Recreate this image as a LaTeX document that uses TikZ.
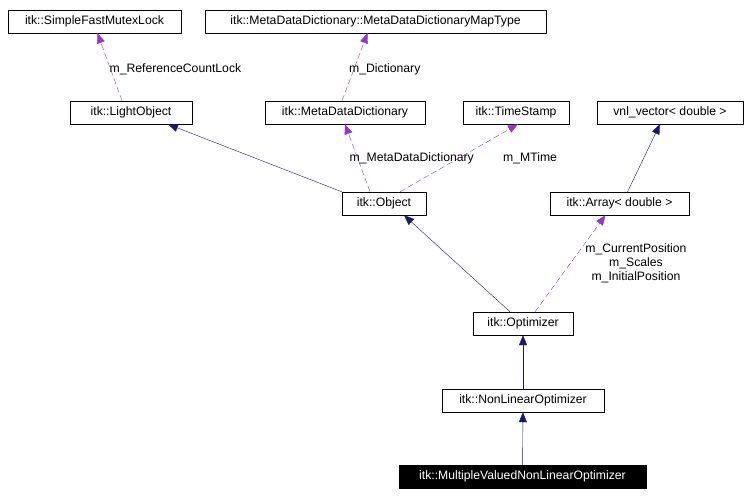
\documentclass[tikz,border=0pt]{standalone}
\usepackage{fontspec}
\setmainfont{Liberation Sans}
\usetikzlibrary{arrows.meta,positioning}
\definecolor{navyline}{RGB}{25,25,112}
\definecolor{memberline}{RGB}{154,50,205}
\tikzset{cls/.style={rectangle,draw,thin,font=\fontsize{12.2}{14}\selectfont,inner sep=0pt,minimum height=23pt},
  inherit/.style={draw=navyline,-{Triangle[length=10pt,width=8pt,fill=navyline]}},
  member/.style={draw=memberline,dashed,dash pattern=on 6pt off 3pt,-{Triangle[length=10pt,width=8pt,fill=memberline]}},
  lbl/.style={font=\fontsize{12.2}{14}\selectfont,align=center,inner sep=1pt}}
\begin{document}
\begin{tikzpicture}[x=1pt,y=-1pt]
\useasboundingbox (0,0) rectangle (751,498);

%classes
\node[cls,minimum width=173pt] (Lock) at (94.5,21.5) {itk::SimpleFastMutexLock};
\node[cls,minimum width=341pt] (MapType) at (375.5,21.5) {itk::MetaDataDictionary::MetaDataDictionaryMapType};
\node[cls,minimum width=122pt] (LightObject) at (131,112.5) {itk::LightObject};
\node[cls,minimum width=160pt] (Dict) at (345,112.5) {itk::MetaDataDictionary};
\node[cls,minimum width=106pt] (TimeStamp) at (516,112.5) {itk::TimeStamp};
\node[cls,minimum width=146pt] (Vnl) at (670,112.5) {vnl\_vector\textless{} double \textgreater};
\node[cls,minimum width=84pt] (Object) at (384,203.5) {itk::Object};
\node[cls,minimum width=139pt] (Array) at (619.5,203.5) {itk::Array\textless{} double \textgreater};
\node[cls,minimum width=100pt] (Optimizer) at (523,323.5) {itk::Optimizer};
\node[cls,minimum width=162pt] (NonLinear) at (523,400.5) {itk::NonLinearOptimizer};
\node[cls,minimum width=247pt,fill=black,text=white] (Multi) at (522.5,476.5) {itk::MultipleValuedNonLinearOptimizer};

%inheritance
\draw[inherit] (Object.north west) -- ([xshift=37pt]LightObject.south);
\draw[inherit] ([xshift=8pt]Array.north) -- ([xshift=-10pt]Vnl.south);
\draw[inherit] ([xshift=-13pt]Optimizer.north) -- ([xshift=20pt]Object.south);
\draw[inherit] (NonLinear) -- (Optimizer);
\draw[inherit] (Multi) -- (NonLinear);

%members
\draw[member] ([xshift=-9pt]LightObject.north) -- ([xshift=3pt]Lock.south) node[lbl,pos=0.47,anchor=west,xshift=-2pt] {m\_ReferenceCountLock};
\draw[member] ([xshift=-3pt]Dict.north) -- ([xshift=-8pt]MapType.south) node[lbl,pos=0.47,anchor=west,xshift=-6pt] {m\_Dictionary};
\draw[member] ([xshift=-14pt]Object.north) -- (Dict.south) node[lbl,pos=0.5,anchor=west,xshift=-9pt] {m\_MetaDataDictionary};
\draw[member] ([xshift=16pt]Object.north) -- ([xshift=2pt]TimeStamp.south) node[lbl,pos=0.5,anchor=west,xshift=43pt] {m\_MTime};
\draw[member] ([xshift=12pt]Optimizer.north) -- ([xshift=-14pt]Array.south) node[lbl,pos=0.5,anchor=west,xshift=14pt] {m\_CurrentPosition\\m\_Scales\\m\_InitialPosition};
\end{tikzpicture}
\end{document}
